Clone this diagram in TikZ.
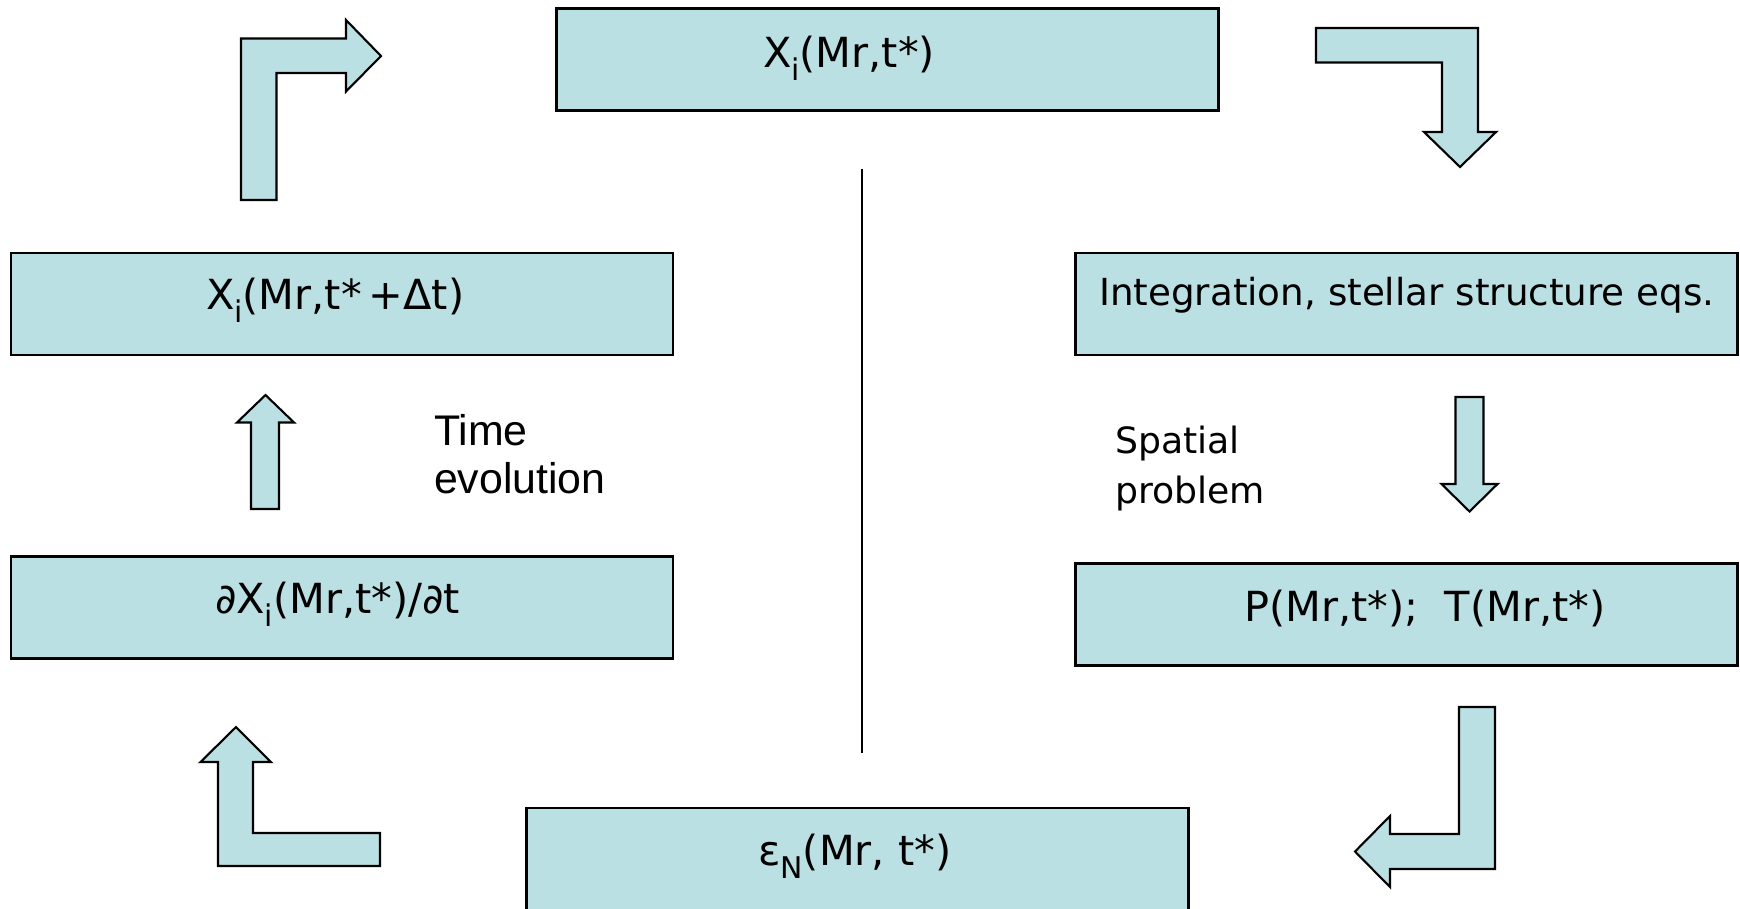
\documentclass[tikz,border=0pt]{standalone}
\usepackage{fontspec}
\setmainfont{DejaVu Sans}
\newfontfamily\arialfont{Liberation Sans}
\definecolor{boxfill}{RGB}{187,224,227}
\newcommand{\lowsub}[1]{\raisebox{-0.33em}{\fontsize{8.5}{8.5}\selectfont #1}}
\begin{document}
\begin{tikzpicture}[x=0.1mm,y=-0.1mm,line width=0.6pt,
stage/.style={draw,fill=boxfill,rectangle,inner sep=0pt,minimum width=66.2mm,minimum height=10.2mm},
boxtext/.style={anchor=base west,inner sep=0pt,font=\fontsize{11.8}{14}\selectfont},
sidetext/.style={anchor=north west,inner sep=0pt,align=left},
blockarrow/.style={draw,fill=boxfill,line join=miter}]
\useasboundingbox (0,0) rectangle (1740,908);
% boxes
\draw (887.5,59.5) node[stage] (xtop) {};
\draw (342,304) node[stage] (xnew) {};
\draw (342,607.5) node[stage] (dxdt) {};
\draw (1406.5,304) node[stage] (integ) {};
\draw (1406.5,614.5) node[stage] (pt) {};
\draw (857.5,868) node[stage,minimum height=12mm] (eps) {};
% box texts
\draw (762,67) node[boxtext] (xtoplbl) {X\lowsub{i}(Mr,t*)};
\draw (205,309) node[boxtext] (xnewlbl) {X\lowsub{i}(Mr,t*\,+Δt)};
\draw (214,613) node[boxtext] (dxdtlbl) {∂X\lowsub{i}(Mr,t*)/∂t};
\draw (1098,305) node[boxtext,font=\fontsize{10.6}{12}\selectfont] (integlbl) {Integration, stellar structure eqs.};
\draw (1243,621) node[boxtext] (ptlbl) {P(Mr,t*);\ \ T(Mr,t*)};
\draw (757,865) node[boxtext] (epslbl) {ε\lowsub{N}(Mr, t*)};
% side notes
\draw (433,413) node[sidetext,font=\arialfont\fontsize{12.2}{13.9}\selectfont] (timelbl) {Time\\evolution};
\draw (1114,425) node[sidetext,font=\fontsize{10.3}{14.2}\selectfont] (spacelbl) {Spatial\\problem};
% divider
\coordinate (divtop) at (862,169);
\coordinate (divbot) at (862,753);
\draw[line width=0.5pt] (divtop) -- (divbot);
% bent arrows round the loop
\draw[blockarrow] (241,200) -- (241,38.5) -- (346,38.5) -- (346,20) -- (381,56)
  -- (346,91.5) -- (346,73) -- (276.5,73) -- (276.5,200) -- cycle;
\draw[blockarrow] (1316,28) -- (1478,28) -- (1478,132) -- (1496,132) -- (1460,167)
  -- (1424,132) -- (1442,132) -- (1442,62.5) -- (1316,62.5) -- cycle;
\draw[blockarrow] (1459,707) -- (1495,707) -- (1495,869) -- (1390,869) -- (1390,887)
  -- (1355,851.5) -- (1390,816) -- (1390,834) -- (1459,834) -- cycle;
\draw[blockarrow] (218,866) -- (380,866) -- (380,833) -- (253,833) -- (253,762)
  -- (271,762) -- (236,727) -- (200.5,762) -- (218,762) -- cycle;
% straight arrows
\draw[blockarrow] (251,509) -- (251,422.5) -- (237,422.5) -- (265.5,395) -- (294,422.5)
  -- (279,422.5) -- (279,509) -- cycle;
\draw[blockarrow] (1455.5,397) -- (1483.5,397) -- (1483.5,484) -- (1497.5,484) -- (1469.5,511.5)
  -- (1441.5,484) -- (1455.5,484) -- cycle;
\end{tikzpicture}
\end{document}
